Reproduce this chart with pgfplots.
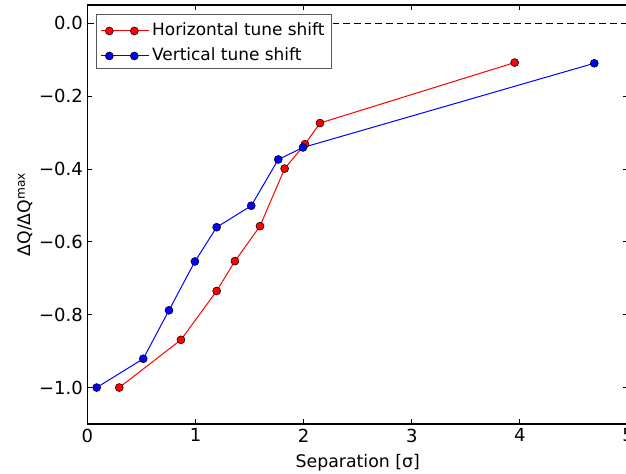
\documentclass[border=0pt]{standalone}
\usepackage{pgfplots}
\pgfplotsset{compat=1.18}
\usepackage{fontspec}
\setmainfont{DejaVu Sans}

\begin{document}
\begin{tikzpicture}
\begin{axis}[
  at={(0,0)}, anchor=south west,
  scale only axis, width=405.4pt, height=314.25pt,
  xmin=0, xmax=5, ymin=-1.1, ymax=0.05,
  xtick={0,1,2,3,4,5}, xticklabels={0,1,2,3,4,5},
  ytick={-1,-0.8,-0.6,-0.4,-0.2,0},
  yticklabels={−1.0,−0.8,−0.6,−0.4,−0.2,0.0},
  tick align=inside, major tick length=3.5pt,
  axis line style={line width=0.8pt},
  every tick/.style={black, line width=0.6pt},
  ticklabel style={font=\fontsize{13.5}{15}\selectfont},
  xlabel={Separation [σ]},
  ylabel={ΔQ/ΔQ\textsuperscript{max}},
  label style={font=\fontsize{13}{15}\selectfont},
  xlabel style={at={(axis description cs:0.5,-0.093)}, anchor=center},
  ylabel style={at={(axis description cs:-0.115,0.5)}, anchor=center},
  legend style={at={(axis description cs:0.0158,0.9785)}, anchor=north west,
    draw=black!65, line width=0.75pt, fill=white,
    font=\fontsize{12.7}{15}\selectfont,
    inner xsep=3pt, inner ysep=2.6pt, row sep=2.25pt,
    nodes={inner sep=2pt, text height=11pt, text depth=1.5pt}},
  legend cell align=left,
  legend image code/.code={
    \path (0pt,-1.5pt) -- (36pt,-1.5pt);
    \draw[mark repeat=1,#1] plot coordinates {(6.25pt,-1.5pt) (25pt,-1.5pt)};
  },
]
\addplot[black, dashed, line width=0.75pt, dash pattern=on 5pt off 3pt, forget plot]
  coordinates {(0,0) (5,0)};
\addplot[red, line width=0.75pt, mark=*, mark size=3pt,
  mark options={fill=red, draw=black, line width=0.4pt}]
  coordinates {
    (0.294,-1.000) (0.865,-0.869) (1.195,-0.735) (1.364,-0.653) (1.596,-0.557)
    (1.824,-0.399) (2.012,-0.332) (2.151,-0.274) (3.952,-0.108)};
\addlegendentry{Horizontal tune shift}
\addplot[blue, line width=0.75pt, mark=*, mark size=3pt,
  mark options={fill=blue, draw=black, line width=0.4pt}]
  coordinates {
    (0.085,-1.000) (0.516,-0.921) (0.754,-0.788) (0.994,-0.654) (1.195,-0.560)
    (1.515,-0.501) (1.765,-0.374) (1.994,-0.341) (4.688,-0.110)};
\addlegendentry{Vertical tune shift}
\end{axis}
\pgfresetboundingbox
\path[use as bounding box] (-65.6pt,-37.5pt) rectangle (403.9pt,318pt);
\end{tikzpicture}
\end{document}
